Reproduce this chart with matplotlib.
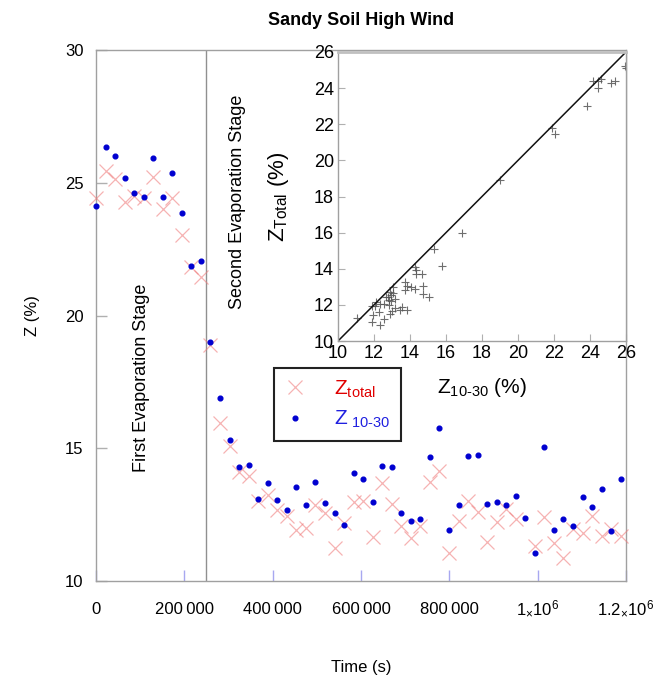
import numpy as np
import matplotlib
matplotlib.use("Agg")
import matplotlib.pyplot as plt
from matplotlib.lines import Line2D

plt.rcParams['font.family'] = ['Liberation Sans', 'DejaVu Sans']
plt.rcParams['mathtext.fontset'] = 'custom'
plt.rcParams['mathtext.rm'] = 'Liberation Sans'
plt.rcParams['mathtext.it'] = 'Liberation Sans'
plt.rcParams['mathtext.default'] = 'regular'

# ---- data ----
time_step = 21600  # s between samples (6 h)
z_10_30 = [24.14, 26.35, 26.00, 25.18, 24.61, 24.47, 25.92, 24.47, 25.37, 23.86,
           21.88, 22.04, 18.99, 16.90, 15.31, 14.29, 14.36, 13.08, 13.70, 13.04,
           12.66, 13.55, 12.85, 13.72, 12.93, 12.55, 12.11, 14.07, 13.85, 12.98,
           14.34, 14.28, 12.57, 12.27, 12.32, 14.67, 15.75, 11.91, 12.85, 14.71,
           14.73, 12.90, 12.96, 12.87, 13.19, 12.38, 11.05, 15.03, 11.93, 12.34,
           12.06, 13.16, 12.80, 13.45, 11.89, 13.83]
z_total = [24.41, 25.45, 25.14, 24.29, 24.51, 24.41, 25.23, 24.01, 24.41, 23.03,
           21.81, 21.46, 18.89, 15.96, 15.07, 14.12, 13.94, 13.01, 13.25, 12.66,
           12.46, 11.91, 12.00, 12.85, 12.57, 11.23, 12.17, 12.99, 13.03, 11.65,
           13.69, 12.89, 12.07, 11.61, 12.07, 13.73, 14.15, 11.04, 12.26, 13.03,
           12.61, 11.47, 12.21, 12.70, 12.35, np.nan, 11.30, 12.42, 11.44, 10.88,
           11.95, 11.82, 12.45, 11.71, 11.95, 11.71]
time_s = [i * time_step for i in range(len(z_10_30))]
stage_boundary = 250000

main_xticks = [0, 200000, 400000, 600000, 800000, 1000000, 1200000]
main_xticklabels = ['0', '200\u2009000', '400\u2009000', '600\u2009000', '800\u2009000',
                    r'1$\mathsf{\times}$10$^6$', r'1.2$\times$10$^6$']
main_xticklabels = ['0', '200\u2009000', '400\u2009000', '600\u2009000', '800\u2009000',
                    r'1$_{\times}$10$^6$', r'1.2$_{\times}$10$^6$']
main_yticks = [10, 15, 20, 25, 30]
inset_ticks = [10, 12, 14, 16, 18, 20, 22, 24, 26]

W, H = 654, 675
fig = plt.figure(figsize=(W / 100, H / 100), dpi=100)

def fx(px):
    return px / W

def fy(py):
    return 1 - py / H

# ---- main axes ----
ax = fig.add_axes([fx(96), fy(581), fx(626) - fx(96), fy(50) - fy(581)])
spine_col = '#a0a0a0'
for s in ax.spines.values():
    s.set_color(spine_col)
    s.set_linewidth(1.0)

ax.plot(time_s, z_total, linestyle='none', marker='x', markersize=9.5,
        markeredgewidth=0.9, color='#f08080', alpha=0.6, clip_on=False, zorder=3)
ax.plot(time_s, z_10_30, linestyle='none', marker='o', markersize=3.4,
        color='#0000d0', clip_on=False, zorder=4)

ax.axvline(stage_boundary, color='#909090', linewidth=1.0, zorder=2)

ax.set_xlim(0, 1200000)
ax.set_ylim(10, 30)
ax.set_xticks(main_xticks)
ax.set_xticklabels(main_xticklabels)
for lbl in ax.get_xticklabels():
    lbl.set_verticalalignment('baseline')
ax.set_yticks(main_yticks)
ax.tick_params(axis='x', direction='in', length=8, width=1.0, color='#a8a8f0',
               labelsize=12, pad=24)
ax.tick_params(axis='y', direction='in', length=8, width=1.0, color='#b0b0b0',
               labelsize=12, pad=9)
ax.set_xlabel('Time (s)', fontsize=12, labelpad=30)
ax.set_ylabel('Z (%)', fontsize=12, labelpad=18)
ax.set_title('Sandy Soil High Wind', fontsize=13, fontweight='bold', pad=18)

ax.text(103500, 17.65, 'First Evaporation Stage', rotation=90, fontsize=13,
        ha='center', va='center')
ax.text(320500, 24.27, 'Second Evaporation Stage', rotation=90, fontsize=13,
        ha='center', va='center')

# legend
handles = [Line2D([], [], linestyle='none', marker='x', markersize=9.5,
                  markeredgewidth=0.9, color='#f08080', alpha=0.6),
           Line2D([], [], linestyle='none', marker='o', markersize=3.4,
                  color='#0000d0')]
labels = [r'Z$_{\text{total}}$', r'Z$_{\text{ 10-30}}$']
leg = ax.legend(handles, labels, loc='upper left',
                bbox_to_anchor=(fx(274), fy(368)), bbox_transform=fig.transFigure,
                borderaxespad=0, fancybox=False, framealpha=1,
                edgecolor='#222222', fontsize=15, handlelength=1.0,
                handletextpad=1.4, borderpad=0.5, labelspacing=0.45)
leg.get_frame().set_linewidth(1.5)
leg.get_texts()[0].set_color('#e00000')
leg.get_texts()[1].set_color('#2020e0')

# ---- inset ----
ai = fig.add_axes([fx(338), fy(341), fx(626) - fx(338), fy(52) - fy(341)])
for s in ai.spines.values():
    s.set_color(spine_col)
    s.set_linewidth(1.0)
ai.spines['top'].set_linewidth(2.0)
ai.spines['top'].set_color('#c0c0c0')

ai.plot(z_10_30, z_total, linestyle='none', marker='+', markersize=6,
        markeredgewidth=0.8, color='#555555', alpha=0.85, clip_on=True)
lims = (inset_ticks[0], inset_ticks[-1])
ai.plot(lims, lims, color='#111111', linewidth=1.1)
ai.set_xlim(*lims)
ai.set_ylim(*lims)
ai.set_xticks(inset_ticks)
ai.set_yticks(inset_ticks)
ai.tick_params(direction='in', length=5, width=0.8, color='#b0b0b0',
               labelsize=13, pad=3)
ai.set_xlabel(r'Z$_{\text{10-30}}$ (%)', fontsize=15, labelpad=10)
ai.set_ylabel(r'Z$_{\text{Total}}$ (%)', fontsize=16, labelpad=16)

fig.savefig('out.png', dpi=100)
